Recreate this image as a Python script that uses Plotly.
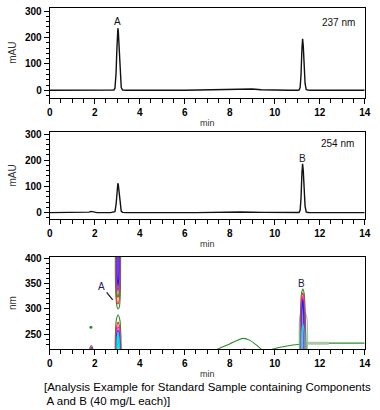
import plotly.graph_objects as go

# ---------------- data ----------------
# Chromatogram at 237 nm
t_237 = [0, 2.70, 2.85, 2.90, 2.95, 2.98, 3.01, 3.03, 3.05, 3.08, 3.11, 3.14, 3.18, 3.24, 3.40,
         6.0, 6.8, 7.6, 8.2, 8.6, 9.0, 9.4, 9.8, 10.6,
         11.00, 11.08, 11.13, 11.17, 11.21, 11.24, 11.27, 11.31, 11.35, 11.40, 11.47, 11.60, 14.0]
mau_237 = [0, 0, 0.5, 8, 65, 143, 217, 235, 222, 166, 97, 44, 10, 1, 0,
           0, 1, 3, 5, 6, 5, 2, 0.5, 0,
           0, 0.4, 10, 58, 156, 195, 168, 87, 26, 3, 0.5, 0, 0]

# Chromatogram at 254 nm
t_254 = [0, 1.60, 1.75, 1.85, 1.95, 2.10, 2.70, 2.90, 2.95, 2.98, 3.01, 3.03, 3.05, 3.08, 3.11,
         3.14, 3.18, 3.24, 3.40, 6.5, 7.5, 8.5, 9.5, 10.6,
         11.00, 11.08, 11.13, 11.17, 11.21, 11.24, 11.27, 11.31, 11.35, 11.40, 11.47, 11.60, 14.0]
mau_254 = [0, 0, 2, 5, 2, 0, 0, 4, 31, 68, 104, 112, 106, 79, 46,
           21, 5, 1, 0, 0, 1.5, 2.5, 1, 0,
           0, 0.4, 9, 55, 150, 186, 160, 83, 25, 3, 0.5, 0, 0]

# Contour map (retention time [min] vs wavelength [nm]); each entry: colour, times, wavelengths
contour_A_upper = [
    ("#2e8b2e", [2.92, 2.92, 2.95, 3.00, 3.04, 3.09, 3.13, 3.15, 3.15], [410, 360, 320, 303, 300, 303, 320, 360, 410]),
    ("#ff3030", [2.95, 2.955, 2.98, 3.035, 3.09, 3.115, 3.12], [410, 350, 318, 310, 318, 350, 410]),
    ("#2e8b2e", [2.97, 2.975, 3.00, 3.035, 3.07, 3.095, 3.10], [410, 350, 328, 322, 328, 350, 410]),
    ("#ff00ff", [2.985, 2.99, 3.035, 3.08, 3.085], [410, 350, 335, 350, 410]),
    ("#2020ff", [3.00, 3.005, 3.035, 3.065, 3.07], [410, 360, 345, 360, 410]),
]
contour_A_lower = [
    ("#2e8b2e", [2.91, 2.92, 2.96, 3.04, 3.12, 3.16, 3.18], [215, 250, 278, 288, 278, 250, 215]),
    ("#ff3030", [2.94, 2.95, 2.99, 3.04, 3.09, 3.13, 3.14], [215, 250, 268, 274, 268, 250, 215]),
    ("#ff00ff", [2.96, 2.97, 3.04, 3.11, 3.12], [215, 250, 265, 250, 215]),
    ("#2020ff", [2.97, 2.98, 3.04, 3.10, 3.11], [215, 245, 258, 245, 215]),
    ("#00e0e0", [2.98, 2.99, 3.04, 3.09, 3.10], [215, 240, 255, 240, 215]),
    ("#00e0e0", [3.00, 3.04, 3.08], [215, 250, 215]),
]
contour_B = [
    ("#a8c0a8", [11.10, 11.12, 11.25, 11.42, 11.45], [215, 285, 300, 285, 215]),
    ("#2e8b2e", [11.13, 11.15, 11.19, 11.25, 11.31, 11.35, 11.40], [215, 300, 330, 339, 330, 300, 215]),
    ("#ff3030", [11.16, 11.18, 11.21, 11.25, 11.29, 11.32, 11.35], [215, 300, 326, 332, 326, 300, 215]),
    ("#ff00ff", [11.18, 11.20, 11.25, 11.30, 11.32], [215, 300, 325, 300, 215]),
    ("#2020ff", [11.21, 11.22, 11.25, 11.28, 11.29], [215, 300, 318, 300, 215]),
    ("#00e0e0", [11.19, 11.20, 11.25, 11.30, 11.31], [215, 255, 270, 255, 215]),
]
contour_small = [
    ("#2e8b2e", [1.77, 1.79, 1.85, 1.91, 1.93], [215, 223, 228, 223, 215]),
    ("#ff00ff", [1.80, 1.82, 1.85, 1.88, 1.90], [215, 221, 225, 221, 215]),
]
contour_baseline = [
    ("#2e8b2e", [7.30, 7.42, 8.0, 8.6, 8.9, 9.15, 9.42, 9.50], [217, 220, 231, 242, 238, 230, 220, 217]),
    ("#ff5050", [8.50, 8.65, 8.80], [218, 221.5, 218]),
    ("#2e8b2e", [9.80, 9.87, 10.3, 10.8, 11.13], [218, 220, 225, 229, 230.5]),
    ("#2e8b2e", [12.40, 14.0], [232.5, 232.5]),
]
pale_tail = ("#a8c8a8", [11.42, 12.40], [232.5, 232.5])
dot_t, dot_nm = [1.83], [264]

x_ticks = [0, 2, 4, 6, 8, 10, 12, 14]

# ---------------- figure ----------------
W, H = 380, 410
fig = go.Figure()

def line(x, y, xa, ya, color, width=1.4):
    fig.add_trace(go.Scatter(x=x, y=y, mode="lines", xaxis=xa, yaxis=ya,
                             line=dict(color=color, width=width), hoverinfo="skip",
                             showlegend=False))

line(t_237, mau_237, "x", "y", "#111111", 1.4)
line(t_254, mau_254, "x2", "y2", "#111111", 1.4)

line(pale_tail[1], pale_tail[2], "x3", "y3", pale_tail[0], 3)
for group in (contour_baseline, contour_small, contour_A_upper, contour_A_lower, contour_B):
    for col, tt, nn in group:
        fig.add_trace(go.Scatter(x=tt, y=nn, mode="lines", xaxis="x3", yaxis="y3",
                                 line=dict(color=col, width=1.1, shape="spline", smoothing=0.8),
                                 hoverinfo="skip", showlegend=False))
fig.add_trace(go.Scatter(x=dot_t, y=dot_nm, mode="markers", xaxis="x3", yaxis="y3",
                         marker=dict(color="#2e8b2e", size=3), hoverinfo="skip", showlegend=False))

xdom = [49.7 / W, 364.7 / W]
def ydom(top_px, bot_px):
    return [1 - bot_px / H, 1 - top_px / H]

FAM = "Liberation Sans, Arial, sans-serif"
tickfont = dict(family=FAM, size=10, color="#000", weight="bold")
titlefont = dict(family=FAM, size=10, color="#333")

def xaxis(anchor):
    return dict(domain=xdom, range=[0, 14], anchor=anchor, showline=True, linecolor="#000",
                linewidth=1, mirror=True, ticks="outside", ticklen=5, tickwidth=1,
                tickcolor="#000", tickvals=x_ticks, tickfont=tickfont, showgrid=False,
                zeroline=False, fixedrange=True, automargin=False,
                minor=dict(dtick=0.5, ticks="outside", ticklen=4, tickcolor="#000", showgrid=False),
                title=dict(text="min", font=dict(family=FAM, size=9, color="#333"), standoff=2))

def yaxis(anchor, dom, rng, dtick, mdtick, title):
    return dict(domain=dom, range=rng, anchor=anchor, showline=True, linecolor="#000",
                linewidth=1, mirror=True, ticks="outside", ticklen=5, tickwidth=1,
                tickcolor="#000", dtick=dtick, tick0=0, tickfont=tickfont, showgrid=False,
                zeroline=False, fixedrange=True, automargin=False,
                minor=dict(dtick=mdtick, ticks="outside", ticklen=3, tickcolor="#000", showgrid=False),
                title=dict(text=title, font=titlefont, standoff=6))

fig.update_layout(
    width=W, height=H, autosize=False,
    margin=dict(l=0, r=0, t=0, b=0, autoexpand=False),
    paper_bgcolor="white", plot_bgcolor="white",
    xaxis=xaxis("y"), xaxis2=xaxis("y2"), xaxis3=xaxis("y3"),
    yaxis=yaxis("x", ydom(7.7, 97.7), [-28, 312.5], 100, 20, "mAU"),
    yaxis2=yaxis("x2", ydom(132.3, 218.7), [-23, 306.5], 100, 20, "mAU"),
    yaxis3=yaxis("x3", ydom(256.7, 349.3), [220.4, 403], 50, 10, "nm"),
)

lab = dict(family=FAM, size=10, color="#111")
fig.add_annotation(x=3.02, y=259, xref="x", yref="y", text="A", showarrow=False, font=lab)
fig.add_annotation(x=12.83, y=258, xref="x", yref="y", text="237 nm", showarrow=False, font=lab)
fig.add_annotation(x=12.77, y=262, xref="x2", yref="y2", text="254 nm", showarrow=False, font=lab)
fig.add_annotation(x=11.23, y=207, xref="x2", yref="y2", text="B", showarrow=False,
                   font=dict(family=FAM, size=10, color="#1a1a40"))
fig.add_annotation(x=2.80, y=318, xref="x3", yref="y3", ax=2.31, ay=345, axref="x3", ayref="y3",
                   text="A", showarrow=True, arrowhead=0, arrowwidth=1.3, arrowcolor="#222",
                   font=dict(family=FAM, size=10, color="#1a1a60"))
fig.add_annotation(x=11.2, y=351, xref="x3", yref="y3", text="B", showarrow=False,
                   font=dict(family=FAM, size=10, color="#1a1a40"))

cap = dict(family=FAM, size=11.5, color="#000")
fig.add_annotation(x=42 / W, y=1 - 387 / H, xref="paper", yref="paper", xanchor="left",
                   yanchor="middle", showarrow=False, font=cap,
                   text="[Analysis Example for Standard Sample containing Components")
fig.add_annotation(x=42 / W, y=1 - 401 / H, xref="paper", yref="paper", xanchor="left",
                   yanchor="middle", showarrow=False, font=cap,
                   text=" A and B (40 mg/L each)]")

fig.write_html("out.html", config={"displayModeBar": False},
               post_script="document.body.style.margin='0';document.body.style.overflow='hidden';")
